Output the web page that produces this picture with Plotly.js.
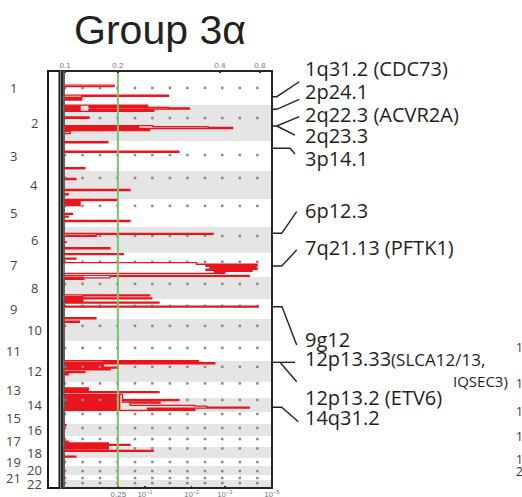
<!DOCTYPE html>
<html><head><meta charset="utf-8">
<script src="https://cdn.plot.ly/plotly-3.0.1.min.js"></script>
<style>html,body{margin:0;padding:0;background:#fff}#chart{width:522px;height:497px}</style>
</head><body><div id="chart"></div>
<script>
// ---- data ----
const chromosomes = ['1','2','3','4','5','6','7','8','9','10','11','12','13','14','15','16','17','18','19','20','21','22'];
const chromLengthMb = [235,248,207,193,193,179,166,152,138,152,138,145,110,97,83,83,76,76,55,62,35,55];
const centromereMb = [117,90,97,48,48,62,62,48,48,48,48,41,10,14,14,28,21,10,28,35,21,21];

// GISTIC score profile, peaks on the cumulative genome (Mb), score in display units (0-100)
const peakStart = [98,166,175,235,241.5,250.5,255.3,262.2,272.5,317,377,384,390,397,404,418,488,553,667,741,817,847,886,904,983,1002,1031,1121,1128,1177,1220,1261,1292,1322.7,1333.8,1340.7,1347.6,1354.5,1361.4,1368.3,1375.2,1382.1,1389,1411,1418,1428.3,1545.6,1552.5,1566.3,1573.2,1595,1622.5,1703,1727,1998.9,2005.8,2012.7,2020.3,2043.8,2050.7,2056.2,2075.5,2090.7,2187.3,2213.5,2232.2,2268.7,2275.6,2285.3,2292.2,2308.1,2313.6,2319.8,2326.7,2335.7,2440,2554,2566.8,2577.2,2584.1,2601.3,2618.6,2657.9];
const peakEnd = [108,175,200,241.5,250.5,255.3,262.2,272.5,278.1,326,384,390,397,404,411,432,496,561,675,749,825,854,894,929,990,1009,1039,1128,1142,1183,1227,1268,1299,1333.8,1340.7,1347.6,1354.5,1361.4,1368.3,1375.2,1382.1,1389,1397.3,1418,1428.3,1438.7,1552.5,1566.3,1573.2,1587,1602,1629.4,1710,1734,2005.8,2012.7,2020.3,2043.8,2050.7,2056.2,2063.1,2082.4,2097.6,2211.5,2220.4,2268.7,2275.6,2285.3,2292.2,2308.1,2313.6,2319.8,2326.7,2335.7,2342.6,2447,2561,2577.2,2584.1,2594.4,2608.2,2625.5,2664.8];
const peakScore = [24,50,8.5,40,12,50,60,12,43,12,42.6,69,80.7,35,41,3,21,55,10,5.7,31.6,2,25.7,7.7,4,2,31.6,71.4,15.6,1,22,28.4,5.7,63.5,92.5,68,92,70,92.5,68,90,72,77,88.7,22,9.5,41,9,42,9,45.5,93,15.3,7.3,64.4,18.8,72.2,18.8,26,18.8,22,10,2,11.6,45.5,28,55,28,46,31.6,62.7,68.3,88.7,40,62.7,1,2,21.2,31.6,21.2,21.2,42.7,5.7];

// dense low-level regions that read as solid red
const denseStart = [176,237,377,904,1128,1418,1552.5,2005.8,2187.3,2232.2,2566.8];
const denseEnd   = [200,277,411,929,1142,1438.7,1587,2063.1,2211.5,2342.6,2608.2];
const denseScore = [8.5,8,36,7.7,15.6,9.5,9,18.8,11.6,27,21.2];

const significanceThreshold = 25.8;             // q = 0.25 line
const dotX = [0.5,8.9,17.2,25.6,34.0,42.3,50.7,59.1,67.5,75.8,84.2,92.6];
const topTickVals = [0.5,25.8,74.6,93.8];
const topTickText = ['0.1','0.2','0.4','0.8'];
const bottomTickVals = [26,38.8,61.1,77,99.5];
const bottomTickText = ['0.25','10<sup>−1</sup>','10<sup>−2</sup>','10<sup>−3</sup>','10<sup>−5</sup>'];

const regionLabels = ['1q31.2 (CDC73)','2p24.1','2q22.3 (ACVR2A)','2q23.3','3p14.1','6p12.3','7q21.13 (PFTK1)','9g12',
  "12p13.33<span style='font-size:17px'>(SLCA12/13,</span>",'12p13.2 (ETV6)','14q31.2'];
const regionLabelY = [68.3,91.5,114.5,135,158,210,247.3,339,359,397,417.3];

// ---- geometry helpers ----
const W=522,H=497,L=62,R=272,T=71,B=488;
const px = x => (x-L)/(R-L);
const py = y => (B-y)/(B-T);

const chromStart=[]; let acc=0;
chromLengthMb.forEach(l=>{chromStart.push(acc);acc+=l;});
const total=acc;

// profile
const profX=[0], profY=[0]; let prevEnd=0;
for(let i=0;i<peakStart.length;i++){
  if(peakStart[i]>prevEnd){profX.push(0);profY.push(prevEnd);}
  profX.push(peakScore[i]);profY.push(peakStart[i]);
  prevEnd=peakEnd[i];
}
profX.push(0);profY.push(prevEnd);profX.push(0);profY.push(total);

// dots
const dX=[],dY=[];
centromereMb.forEach((c,i)=>{dotX.forEach(x=>{dX.push(x);dY.push(chromStart[i]+c);});});

const traces=[
  {type:'scatter',mode:'markers',x:dX,y:dY,marker:{symbol:'square',size:2.5,color:'#8a8a8a'},hoverinfo:'skip',showlegend:false},
  {type:'bar',orientation:'h',x:denseScore,y:denseStart.map((s,i)=>(s+denseEnd[i])/2),width:denseStart.map((s,i)=>denseEnd[i]-s),base:0,marker:{color:'#e8151d',line:{width:0}},hoverinfo:'skip',showlegend:false},
  {type:'scatter',mode:'lines',x:profX,y:profY,line:{color:'#e8151d',width:1.3,shape:'vh'},hoverinfo:'skip',showlegend:false},
  {type:'scatter',mode:'lines',x:[significanceThreshold,significanceThreshold],y:[0,total],xaxis:'x2',line:{color:'#7cc46a',width:2},hoverinfo:'skip',showlegend:false}
];

const shapes=[];
chromosomes.forEach((c,i)=>{
  if(i%2===1) shapes.push({type:'rect',xref:'paper',yref:'y',x0:0,x1:1,y0:chromStart[i],y1:chromStart[i]+chromLengthMb[i],fillcolor:'#e5e5e5',line:{width:0},layer:'below'});
});
shapes.push({type:'rect',xref:'paper',yref:'paper',x0:0,x1:1,y0:0,y1:1,line:{color:'#262626',width:2},layer:'above'});
shapes.push({type:'line',xref:'x',yref:'paper',x0:0,x1:0,y0:0,y1:1,line:{color:'#5a5a5a',width:1.6},layer:'above'});
shapes.push({type:'rect',xref:'paper',yref:'paper',x0:px(48),x1:px(59.5),y0:0,y1:1,line:{color:'#1a1a1a',width:2},fillcolor:'#fff'});

const connectors=[
  [[272,96.7],[276.7,96.7],[299.3,81.7]],
  [[272,109.3],[276.7,109.3],[299.3,99.3]],
  [[272,126],[276.7,126],[299.3,116.7]],
  [[276.7,126],[295,135]],
  [[272,148.3],[290,148.3],[295,154]],
  [[272,233.3],[281.7,233.3],[296.7,211.7]],
  [[272,266],[281.7,266],[296.7,250]],
  [[272,306.7],[282,306.7],[296.7,345]],
  [[272,362.3],[295,362.3]],
  [[280,362.3],[296.7,381.7]],
  [[272,407.3],[281.7,407.3],[298.3,421.7]]
];
connectors.forEach(pts=>{
  const path=pts.map((p,i)=>(i?'L':'M')+px(p[0]).toFixed(4)+','+py(p[1]).toFixed(4)).join(' ');
  shapes.push({type:'path',xref:'paper',yref:'paper',path:path,line:{color:'#222',width:1.4}});
});

const annotations=[];
chromosomes.forEach((c,i)=>{
  annotations.push({xref:'paper',yref:'y',x:px(i%2===0?13:34),y:chromStart[i]+chromLengthMb[i]/2,text:c,showarrow:false,xanchor:'center',yanchor:'middle',font:{family:'Open Sans',size:13,color:'#444'}});
});
regionLabels.forEach((t,i)=>{
  annotations.push({xref:'paper',yref:'paper',x:px(303),y:py(regionLabelY[i]),text:t,showarrow:false,xanchor:'left',yanchor:'middle',font:{family:'Open Sans',size:20,color:'#1e1e1e'}});
});
annotations.push({xref:'paper',yref:'paper',x:px(451),y:py(381),text:'IQSEC3)',showarrow:false,xanchor:'left',yanchor:'middle',font:{family:'Open Sans',size:15,color:'#1e1e1e'}});
[[347,'1'],[383,'1'],[411,'1'],[436,'1'],[459,'1'],[471,'2']].forEach(e=>{
  annotations.push({xref:'paper',yref:'paper',x:px(514),y:py(e[0]),text:e[1],showarrow:false,xanchor:'left',yanchor:'middle',font:{family:'Open Sans',size:12,color:'#333'}});
});

const layout={
  width:W,height:H,margin:{l:L,r:W-R,t:T,b:H-B,pad:0},
  paper_bgcolor:'#fff',plot_bgcolor:'#fff',showlegend:false,barmode:'overlay',
  title:{text:'Group 3α',x:160/W,xref:'container',xanchor:'center',y:1-30/H,yref:'container',yanchor:'middle',font:{family:'Liberation Sans',size:41,color:'#222'}},
  xaxis:{range:[-0.96,99.6],showgrid:false,zeroline:false,showline:false,tickmode:'array',tickvals:bottomTickVals,ticktext:bottomTickText,ticks:'inside',ticklen:2,tickwidth:1.5,tickcolor:'#333',tickfont:{family:'Liberation Sans',size:8,color:'#777'},fixedrange:true},
  xaxis2:{overlaying:'x',side:'top',anchor:'y',range:[-0.96,99.6],showgrid:false,zeroline:false,showline:false,tickmode:'array',tickvals:topTickVals,ticktext:topTickText,ticks:'inside',ticklen:2,tickwidth:1.5,tickcolor:'#333',tickfont:{family:'Liberation Sans',size:8,color:'#777'},fixedrange:true},
  yaxis:{range:[total,0],showgrid:false,zeroline:false,showline:false,showticklabels:false,ticks:'',fixedrange:true},
  shapes:shapes,annotations:annotations
};
Plotly.newPlot('chart',traces,layout,{displayModeBar:false,staticPlot:true});
</script></body></html>
